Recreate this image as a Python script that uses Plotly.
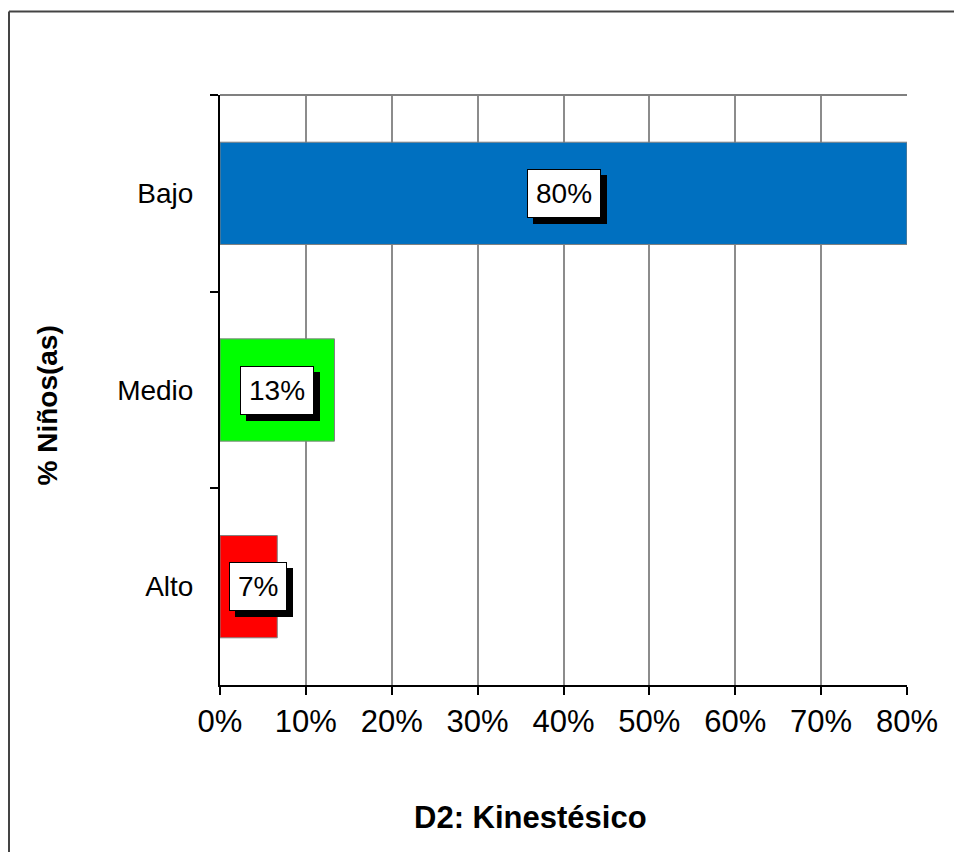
import plotly.graph_objects as go

categories = ["Bajo", "Medio", "Alto"]
values = [80.0, 13.33, 6.67]
value_labels = ["80%", "13%", "7%"]
bar_colors = ["#0070C0", "#00FF00", "#FF0000"]
x_ticks = [0, 10, 20, 30, 40, 50, 60, 70, 80]
x_tick_labels = ["0%", "10%", "20%", "30%", "40%", "50%", "60%", "70%", "80%"]
x_title = "D2: Kinestésico"
y_title = "% Niños(as)"

# page body has an 8px margin: figure coordinates = screen coordinates - 8
OFF = 8
W, H = 962 - OFF, 852 - OFF
L, T = 220 - OFF, 95 - OFF
R = W - (907 - OFF)
B = H - (685 - OFF)
pw, ph = W - L - R, H - T - B

def px_x(p):
    return (p - OFF - L) / pw

def px_y(p):
    return (H - B - (p - OFF)) / ph

FONT = "Arial, Liberation Sans, sans-serif"

fig = go.Figure()
fig.add_trace(go.Bar(
    y=categories, x=values, orientation="h",
    marker=dict(color=bar_colors, line=dict(color="#808080", width=1)),
    width=0.52, hoverinfo="skip",
))

# data labels with drop shadow; keep label inside the plot when the bar is short
min_center = 4.37
for cat, v, lab in zip(categories, values, value_labels):
    cx = max(v / 2, min_center)
    common = dict(x=cx, y=cat, xref="x", yref="y", text=lab, showarrow=False,
                  font=dict(family=FONT, size=28, color="black"),
                  borderpad=8, borderwidth=1)
    fig.add_annotation(**common, bgcolor="black", bordercolor="black",
                       xshift=6, yshift=-6)
    fig.add_annotation(**common, bgcolor="white", bordercolor="black")

# axis titles
fig.add_annotation(x=px_x(530), y=px_y(837), xref="paper", yref="paper",
                   text="<b>" + x_title + "</b>", showarrow=False,
                   font=dict(family=FONT, size=31, color="black"))
fig.add_annotation(x=px_x(29), y=px_y(406), xref="paper", yref="paper",
                   text="<b>" + y_title + "</b>", showarrow=False, textangle=-90,
                   font=dict(family=FONT, size=28, color="black"))

# plot-area top border and outer chart frame
fig.add_shape(type="line", xref="paper", yref="paper", x0=0, x1=1, y0=1, y1=1,
              line=dict(color="#808080", width=2))
fig.add_shape(type="line", xref="paper", yref="paper",
              x0=px_x(9), x1=px_x(9), y0=px_y(11.5), y1=px_y(900),
              line=dict(color="#444444", width=2))
fig.add_shape(type="line", xref="paper", yref="paper",
              x0=px_x(9), x1=px_x(1000), y0=px_y(11.5), y1=px_y(11.5),
              line=dict(color="#444444", width=2))

fig.update_xaxes(range=[0, 80], tickmode="array", tickvals=x_ticks, ticktext=x_tick_labels,
                 showgrid=True, gridcolor="#8c8c8c", gridwidth=2,
                 showline=True, linecolor="black", linewidth=2,
                 ticks="outside", ticklen=8, tickcolor="black", tickwidth=2,
                 tickfont=dict(family=FONT, size=31, color="black"),
                 zeroline=False, fixedrange=True)
fig.update_yaxes(type="category", autorange="reversed", tickson="boundaries",
                 showgrid=False, showline=True, linecolor="black", linewidth=2,
                 ticks="outside", ticklen=8, tickcolor="black", tickwidth=2,
                 tickfont=dict(family=FONT, size=28, color="black"),
                 ticklabelstandoff=19, fixedrange=True)

fig.update_layout(width=W, height=H, margin=dict(l=L, r=R, t=T, b=B, autoexpand=False),
                  plot_bgcolor="white", paper_bgcolor="white", showlegend=False,
                  bargap=0.48, font=dict(family=FONT, color="black"))

fig.write_html("out.html")
